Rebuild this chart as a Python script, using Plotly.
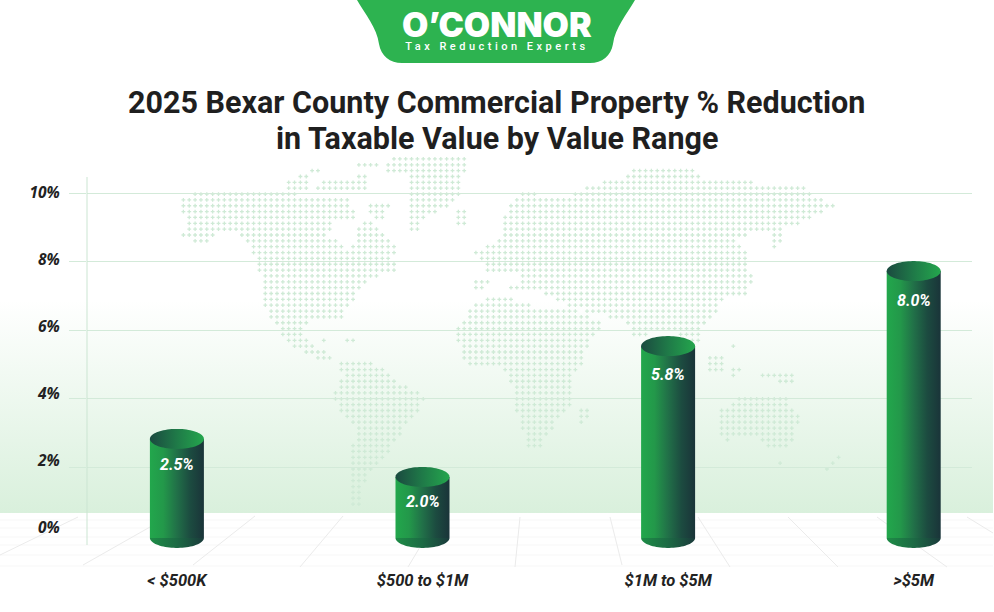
import math
import numpy as np
import plotly.graph_objects as go

categories = ["< $500K", "$500 to $1M", "$1M to $5M", ">$5M"]
value_labels = ["2.5%", "2.0%", "5.8%", "8.0%"]
# height each cylinder is actually drawn to, read against the gridlines
drawn_tops = [2.82, 1.71, 5.53, 7.72]
grid_ticks = [2, 4, 6, 8, 10]
label_ticks = [0, 2, 4, 6, 8, 10]
label_text = ["0%", "2%", "4%", "6%", "8%", "10%"]
title_lines = ["2025 Bexar County Commercial Property % Reduction", "in Taxable Value by Value Range"]

W, H = 994, 612
PLOT_L, PLOT_R, PLOT_T, PLOT_B = 87, 972, 177, 550
AXIS_END = 545
CAT_0, CAT_STEP = 176.9, 245.6
Y_PER_UNIT, Y_ZERO = 34.25, 535.5
LABEL_PER_UNIT, LABEL_ZERO = 33.55, 528
BAR_RX = 27 / CAT_STEP
BAR_RY = 10 / Y_PER_UNIT
BASE = -0.07
VALUE_DROP = [26, 25, 28, 29]

GRID = "#d3ead9"
BODY = [[0, "#22a74c"], [0.25, "#23984a"], [0.5, "#217048"], [0.75, "#1c4b40"], [1, "#1a3439"]]
CAP = [[0, "#1e8c46"], [0.5, "#1c6a44"], [1, "#1a3a3b"]]
LID = [[0, "#1b4a40"], [0.5, "#1f7a48"], [1, "#24a64d"]]


def z5(pts):
    return [(160 + x / 3, 155 + y / 3) for x, y in pts]


def z6(pts):
    return [(450 + x / 3, 155 + y / 3) for x, y in pts]


# rough land outlines for the dotted map behind the chart
land = [
    z5([(65, 130), (135, 100), (240, 110), (380, 110), (470, 130), (570, 135), (590, 190), (520, 205), (500, 240),
        (540, 255), (560, 290), (590, 240), (600, 200), (640, 195), (680, 240), (715, 290), (690, 300), (710, 345),
        (660, 360), (610, 385), (575, 440), (540, 495), (450, 500), (435, 520), (440, 560), (480, 580), (520, 600),
        (505, 620), (450, 600), (410, 585), (390, 560), (360, 530), (345, 510), (310, 440), (305, 375), (290, 320),
        (275, 290), (255, 255), (240, 240), (170, 240), (130, 275), (100, 275), (100, 250), (65, 240), (80, 200),
        (65, 170)]),
    z5([(370, 70), (440, 60), (450, 110), (375, 105)]),
    z5([(465, 85), (550, 70), (630, 60), (630, 105), (465, 105)]),
    z5([(585, 12), (660, 12), (660, 35), (585, 35)]),
    z5([(430, 48), (490, 43), (490, 55), (430, 55)]),
    z5([(620, 150), (695, 150), (660, 200), (620, 180)]),
    z5([(670, 30), (700, 10), (920, 10), (920, 50), (905, 60), (905, 100), (885, 140), (830, 170), (790, 190),
        (780, 240), (740, 240), (740, 60), (670, 50)]),
    z5([(880, 165), (920, 165), (920, 210), (895, 210)]),
    z5([(515, 635), (570, 615), (660, 630), (695, 655), (730, 690), (800, 720), (780, 745), (765, 790), (740, 810),
        (710, 850), (690, 885), (660, 930), (620, 950), (610, 1020), (600, 1050), (570, 1050), (565, 900), (585, 860),
        (585, 810), (550, 790), (530, 740), (515, 720), (535, 690), (550, 650)]),
    z5([(480, 545), (505, 545), (490, 570)]),
    z5([(535, 530), (560, 530), (555, 570), (600, 565), (585, 550)]),
    z6([(60, 295), (115, 270), (100, 240), (115, 280), (150, 240), (150, 205), (180, 150), (215, 115), (250, 115),
        (300, 135), (340, 130), (440, 85), (510, 70), (570, 30), (720, 30), (760, 70), (950, 85), (1070, 100),
        (1085, 120), (1155, 150), (1115, 170), (1085, 190), (1050, 205), (1000, 225), (995, 260), (965, 290),
        (955, 230), (850, 250), (890, 290), (895, 360), (910, 360), (895, 410), (860, 430), (820, 410), (810, 465),
        (790, 480), (750, 520), (760, 550), (735, 580), (690, 540), (630, 530), (545, 550), (530, 510), (510, 495),
        (440, 480), (300, 430), (265, 395), (235, 410), (200, 410), (165, 395), (270, 365), (112, 360), (112, 320)]),
    z6([(60, 375), (135, 375), (110, 395), (95, 415), (65, 395)]),
    z6([(25, 515), (60, 460), (100, 430), (190, 430), (200, 445), (400, 470), (465, 515), (430, 550), (410, 590),
        (410, 620), (375, 650), (360, 700), (375, 740), (330, 790), (305, 830), (270, 880), (235, 880), (215, 820),
        (200, 770), (200, 730), (180, 670), (160, 635), (75, 635), (40, 620), (25, 570)]),
    z6([(390, 755), (430, 755), (410, 790), (390, 810)]),
    z6([(770, 605), (830, 600), (810, 660), (770, 640)]),
    z6([(840, 635), (880, 635), (860, 670), (840, 670)]),
    z6([(890, 650), (1035, 650), (1035, 690), (960, 675)]),
    z6([(750, 685), (810, 685), (810, 692), (750, 692)]),
    z6([(825, 530), (860, 590), (840, 575)]),
    z6([(800, 770), (870, 725), (1000, 720), (1050, 790), (1030, 845), (1015, 880), (960, 880), (925, 840),
        (850, 845), (825, 860), (800, 810)]),
    z6([(975, 910), (1000, 910), (1000, 935), (975, 935)]),
    z6([(1115, 945), (1190, 875), (1190, 895), (1140, 945)]),
    z6([(1115, 755), (1140, 755), (1140, 762), (1115, 762)]),
]


def inside(px, py, poly):
    hit = False
    j = len(poly) - 1
    for i in range(len(poly)):
        xi, yi = poly[i]
        xj, yj = poly[j]
        if (yi > py) != (yj > py) and px < (xj - xi) * (py - yi) / (yj - yi) + xi:
            hit = not hit
        j = i
    return hit


dots_x, dots_y = [], []
for row in range(-12, 50):
    for col in range(0, 115):
        px = 171.7 + 5.85 * col
        py = 223.3 + 5.85 * row
        if any(inside(px, py, p) for p in land):
            dots_x.append(px)
            dots_y.append(py)

fig = go.Figure()

# page-sized backdrop: green band and map dots
fig.add_trace(go.Scatter(x=[0, 993, 993, 0, 0], y=[300, 300, 513, 513, 300], mode="none", fill="toself",
                         fillgradient=dict(type="vertical",
                                           colorscale=[[0, "#d9f0dc"], [1, "#ffffff"]]),
                         hoverinfo="skip", xaxis="x", yaxis="y"))
fig.add_trace(go.Scatter(x=dots_x, y=dots_y, mode="markers",
                         marker=dict(symbol="cross", size=3.2, color="#cfead6", line=dict(width=0)),
                         hoverinfo="skip", xaxis="x", yaxis="y"))

# invisible trace so the label axis gets drawn
fig.add_trace(go.Scatter(x=[0] * len(label_ticks), y=label_ticks, mode="markers", marker=dict(opacity=0),
                         hoverinfo="skip", xaxis="x2", yaxis="y3"))

ang = np.linspace(0, math.pi, 40)
for i, top in enumerate(drawn_tops):
    ex = i + BAR_RX * np.cos(ang)
    ey = BAR_RY * np.sin(ang)
    body_x = [i - BAR_RX, i + BAR_RX, i + BAR_RX, i - BAR_RX, i - BAR_RX]
    body_y = [BASE, BASE, top, top, BASE]
    fig.add_trace(go.Scatter(x=body_x, y=body_y, mode="none", fill="toself",
                             fillgradient=dict(type="horizontal", colorscale=BODY),
                             hoverinfo="skip", xaxis="x2", yaxis="y2"))
    fig.add_trace(go.Scatter(x=list(ex) + [ex[0]], y=list(BASE - ey) + [BASE - ey[0]], mode="none", fill="toself",
                             fillgradient=dict(type="horizontal", colorscale=CAP),
                             hoverinfo="skip", xaxis="x2", yaxis="y2"))
    lid_x = list(ex) + list(ex[::-1])
    lid_y = list(top + ey) + list(top - ey[::-1])
    fig.add_trace(go.Scatter(x=lid_x, y=lid_y, mode="none", fill="toself",
                             fillgradient=dict(type="horizontal", colorscale=LID),
                             hoverinfo="skip", xaxis="x2", yaxis="y2"))

# floor grid
floor_diag = [(0, 555, 78, 517), (83, 565, 150, 527), (193, 565, 255, 516), (300, 567, 343, 516),
              (408, 567, 432, 527), (520, 517, 515, 567), (610, 517, 622, 565), (698, 517, 730, 567),
              (788, 517, 838, 567), (877, 517, 947, 567), (967, 517, 993, 533)]
floor_flat = [520, 528, 537, 545, 555, 566]
shapes = []
for y0 in floor_flat:
    shapes.append(dict(type="line", xref="x", yref="y", x0=0, x1=993, y0=y0, y1=y0, layer="below",
                       line=dict(color="#f7f7f7", width=1)))
for x0, y0, x1, y1 in floor_diag:
    shapes.append(dict(type="line", xref="x", yref="y", x0=x0, x1=x1, y0=y0, y1=y1, layer="below",
                       line=dict(color="#ebebeb", width=1)))
# y axis line stops short of the bottom of the plot area
shapes.append(dict(type="line", xref="x", yref="y", x0=PLOT_L, x1=PLOT_L, y0=PLOT_T, y1=AXIS_END, layer="above",
                   line=dict(color="#cbe5d2", width=1)))
# logo badge
shapes.append(dict(type="path", xref="x", yref="y", layer="above", line=dict(width=0), fillcolor="#2db350",
                   path="M357,0 C365,14 377,28 379,44 C381,56 390,63 402,63 L590,63 "
                        "C602,63 611,56 613,44 C615,28 627,14 635,0 Z"))

annotations = [
    dict(text="O’CONNOR", xref="x", yref="y", x=496.5, y=24, showarrow=False,
         font=dict(family="Inter", size=34, weight=900, color="#ffffff")),
    dict(text="Tax Reduction Experts", xref="x", yref="y", x=496.5, y=46, showarrow=False,
         font=dict(family="Roboto", size=11, weight=500, color="#ffffff")),
    dict(text=title_lines[0], xref="x", yref="y", x=496.5, y=102, showarrow=False,
         font=dict(family="Roboto", size=30.5, weight=700, color="#1f1f1f")),
    dict(text=title_lines[1], xref="x", yref="y", x=496.5, y=138, showarrow=False,
         font=dict(family="Roboto", size=30.5, weight=700, color="#1f1f1f")),
]
for i, top in enumerate(drawn_tops):
    annotations.append(dict(text=value_labels[i], xref="x2", yref="y2", x=i, y=top, yshift=-VALUE_DROP[i],
                            showarrow=False,
                            font=dict(family="Roboto", size=16, weight=700, style="italic", color="#ffffff")))

fig.update_layout(
    width=W, height=H, margin=dict(l=0, r=0, t=0, b=0), showlegend=False,
    paper_bgcolor="#ffffff", plot_bgcolor="rgba(0,0,0,0)",
    xaxis=dict(domain=[0, 1], range=[0, W], visible=False, fixedrange=True),
    yaxis=dict(domain=[0, 1], range=[H, 0], visible=False, fixedrange=True),
    xaxis2=dict(domain=[PLOT_L / W, PLOT_R / W], anchor="y2",
                range=[(PLOT_L - CAT_0) / CAT_STEP, (PLOT_R - CAT_0) / CAT_STEP],
                tickvals=list(range(len(categories))), ticktext=categories, showgrid=False, zeroline=False,
                showline=False, ticks="outside", ticklen=15, tickcolor="rgba(0,0,0,0)",
                tickfont=dict(family="Roboto", size=16.5, weight=700, style="italic", color="#222222")),
    yaxis2=dict(domain=[(H - PLOT_B) / H, (H - PLOT_T) / H], anchor="x2",
                range=[(Y_ZERO - PLOT_B) / Y_PER_UNIT, (Y_ZERO - PLOT_T) / Y_PER_UNIT],
                tickvals=grid_ticks, showticklabels=False, showgrid=True, gridcolor=GRID, gridwidth=1,
                zeroline=False, showline=False,
                ticks="outside", ticklen=17, tickcolor=GRID, tickwidth=1),
    yaxis3=dict(overlaying="y2", anchor="x2", side="left",
                range=[(LABEL_ZERO - PLOT_B) / LABEL_PER_UNIT, (LABEL_ZERO - PLOT_T) / LABEL_PER_UNIT],
                tickvals=label_ticks, ticktext=label_text, showgrid=False, zeroline=False, showline=False,
                ticks="outside", ticklen=23, tickcolor="rgba(0,0,0,0)",
                tickfont=dict(family="Open Sans", size=15.5, weight=700, style="italic", color="#222222")),
    shapes=shapes, annotations=annotations,
)

post = """
document.body.style.margin = '0';
document.querySelectorAll('.annotation-text').forEach(function (t) {
  if (t.textContent.indexOf('Tax') === 0) { t.style.letterSpacing = '3.5px'; }
});
"""
fig.write_html("out.html", post_script=post, config={"displayModeBar": False})
